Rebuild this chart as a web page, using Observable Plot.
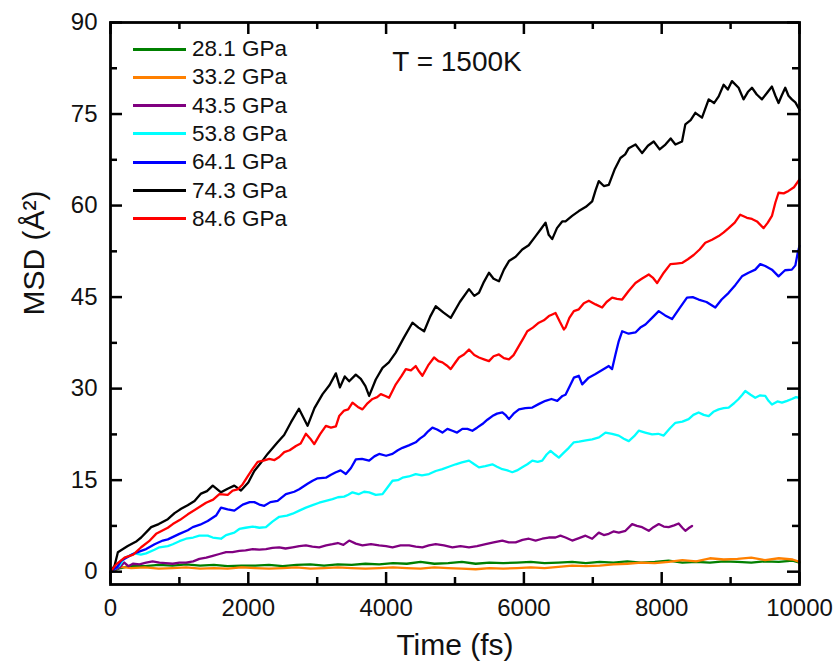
<!DOCTYPE html>
<html>
<head>
<meta charset="utf-8">
<script src="https://cdn.jsdelivr.net/npm/d3@7"></script>
<script src="https://cdn.jsdelivr.net/npm/@observablehq/plot@0.6"></script>
<style>
  html, body { margin: 0; padding: 0; background: #fff; }
  #wrap { position: relative; width: 839px; height: 667px; font-family: "Liberation Sans", Arial, sans-serif; }
  .lg-line { position: absolute; height: 3px; }
  .lg-text { position: absolute; font-size: 22.5px; line-height: 22px; color: #111; white-space: nowrap; }
</style>
</head>
<body>
<div id="wrap"></div>
<script>
// ---- data (time in fs, MSD in Å^2) ----
const seriesLabels = ["28.1 GPa", "33.2 GPa", "43.5 GPa", "53.8 GPa", "64.1 GPa", "74.3 GPa", "84.6 GPa"];
const seriesColors = ["#008000", "#ff8000", "#800080", "#00ffff", "#0000ff", "#000000", "#ff0000"];

const msd281 = [[0,0],[150,0.6],[300,1.0],[500,0.9],[700,1.1],[900,1.0],[1100,1.2],[1300,1.0],[1500,1.1],[1700,0.9],[1900,1.0],[2100,1.0],[2300,1.1],[2500,0.9],[2700,1.1],[2900,1.2],[3100,1.0],[3300,1.2],[3500,1.1],[3700,1.3],[3900,1.2],[4100,1.4],[4300,1.3],[4500,1.6],[4700,1.3],[4900,1.4],[5100,1.6],[5300,1.3],[5500,1.5],[5700,1.4],[5900,1.5],[6100,1.6],[6300,1.4],[6500,1.5],[6700,1.6],[6900,1.4],[7100,1.6],[7300,1.5],[7500,1.7],[7700,1.5],[7900,1.6],[8100,1.8],[8300,1.5],[8500,1.6],[8700,1.5],[8900,1.7],[9100,1.6],[9300,1.5],[9500,1.7],[9700,1.6],[9900,1.8],[10000,1.5]];

const msd332 = [[0,0],[150,0.8],[300,0.6],[500,0.7],[700,0.5],[900,0.6],[1100,0.7],[1300,0.5],[1500,0.6],[1700,0.5],[1900,0.7],[2100,0.6],[2300,0.5],[2500,0.6],[2700,0.7],[2900,0.5],[3100,0.6],[3300,0.7],[3500,0.6],[3700,0.5],[3900,0.6],[4100,0.7],[4300,0.6],[4500,0.5],[4700,0.7],[4900,0.6],[5100,0.5],[5300,0.4],[5500,0.6],[5700,0.5],[5900,0.6],[6100,0.7],[6300,0.6],[6500,0.8],[6700,1.0],[6900,0.9],[7100,1.0],[7300,1.2],[7500,1.3],[7700,1.5],[7900,1.4],[8100,1.6],[8300,1.9],[8500,1.7],[8700,2.2],[8900,2.0],[9100,2.1],[9300,2.3],[9500,1.9],[9700,2.2],[9900,2.0],[10000,1.6]];

const msd435 = [[0,0],[130,0.7],[200,1.5],[260,0.9],[325,1.3],[420,1.2],[517,1.5],[610,1.7],[710,1.5],[800,1.4],[904,1.3],[1000,1.5],[1097,1.5],[1200,1.7],[1290,2.1],[1390,2.3],[1484,2.6],[1580,2.9],[1677,3.2],[1770,3.2],[1870,3.4],[1960,3.5],[2064,3.7],[2160,3.6],[2256,3.7],[2350,3.9],[2449,4.0],[2540,3.8],[2643,4.0],[2740,4.2],[2836,4.3],[2930,4.1],[3029,4.0],[3130,4.3],[3222,4.5],[3300,4.7],[3380,4.4],[3464,5.1],[3560,4.6],[3657,4.3],[3780,4.5],[3899,4.3],[4000,4.2],[4093,4.0],[4210,4.3],[4334,4.3],[4430,4.1],[4527,4.0],[4620,4.3],[4720,4.5],[4840,4.3],[4962,4.0],[5080,4.2],[5203,4.0],[5320,4.2],[5445,4.5],[5560,4.8],[5687,5.1],[5780,4.8],[5880,4.8],[5980,5.2],[6072,5.4],[6170,5.1],[6266,5.4],[6360,5.6],[6459,5.6],[6530,5.9],[6604,5.6],[6701,5.1],[6800,5.5],[6894,5.9],[6991,5.4],[7087,6.4],[7160,6.0],[7232,6.2],[7300,6.6],[7377,6.4],[7474,6.7],[7571,7.8],[7640,7.5],[7716,7.3],[7812,6.7],[7880,7.3],[7957,7.8],[8030,7.4],[8101,7.3],[8180,7.6],[8246,7.9],[8300,7.2],[8343,6.7],[8400,7.2],[8440,7.5]];

const msd538 = [[0,0],[130,1.0],[200,2.2],[348,3.0],[440,2.8],[517,3.0],[638,3.6],[710,4.0],[832,4.2],[904,4.5],[1000,5.0],[1097,5.4],[1200,5.6],[1290,5.9],[1411,5.9],[1484,5.6],[1604,5.4],[1677,6.0],[1797,6.4],[1870,7.0],[1960,7.2],[2064,7.4],[2160,7.2],[2256,7.3],[2350,8.2],[2449,9.0],[2560,9.2],[2643,9.5],[2740,10.0],[2836,10.5],[2933,10.9],[3029,11.3],[3126,11.6],[3222,11.9],[3300,12.2],[3391,12.3],[3450,12.6],[3512,13.0],[3600,12.7],[3680,13.1],[3754,13.0],[3850,12.6],[3948,12.7],[4020,13.8],[4093,14.9],[4170,15.0],[4238,15.4],[4330,15.6],[4430,16.0],[4520,15.8],[4623,16.0],[4720,16.5],[4817,16.8],[4910,17.2],[5010,17.6],[5100,17.9],[5203,18.2],[5280,17.6],[5348,17.1],[5440,17.3],[5542,17.6],[5610,17.2],[5687,16.8],[5760,16.6],[5832,16.3],[5900,16.6],[5976,17.1],[6050,17.6],[6122,18.2],[6200,18.0],[6266,18.2],[6330,19.2],[6387,19.8],[6450,19.2],[6507,18.7],[6580,19.5],[6652,20.3],[6725,21.2],[6800,21.3],[6900,21.5],[6991,21.7],[7090,22.0],[7184,22.8],[7280,22.6],[7377,22.3],[7450,21.8],[7522,21.4],[7600,22.2],[7667,23.1],[7760,22.8],[7861,22.5],[7950,22.6],[8029,22.3],[8120,23.5],[8199,24.4],[8300,24.6],[8391,25.0],[8460,25.7],[8536,26.1],[8610,25.7],[8682,25.5],[8750,26.2],[8827,26.6],[8900,26.8],[8972,26.9],[9050,27.6],[9116,28.3],[9170,29.0],[9213,29.6],[9290,29.0],[9358,28.5],[9430,28.9],[9503,28.8],[9550,28.0],[9600,27.4],[9680,27.9],[9745,27.7],[9820,28.0],[9889,28.3],[9950,28.6],[10000,28.5]];

const msd641 = [[0,0],[100,0.8],[155,1.8],[325,2.9],[445,3.4],[517,3.7],[640,4.5],[759,5.1],[832,5.3],[1000,6.2],[1122,6.8],[1194,7.3],[1300,7.7],[1411,8.3],[1532,9.2],[1604,10.5],[1700,10.2],[1797,10.0],[1919,11.0],[2020,11.4],[2087,11.4],[2160,11.0],[2232,10.8],[2320,11.4],[2425,11.6],[2546,12.7],[2667,13.1],[2739,13.5],[2860,14.4],[2933,14.9],[3006,15.3],[3126,15.4],[3200,15.9],[3271,16.3],[3340,16.6],[3416,16.0],[3490,17.0],[3561,18.4],[3650,18.5],[3754,18.2],[3830,18.9],[3899,19.3],[4000,19.0],[4093,19.3],[4170,19.9],[4238,20.3],[4330,20.7],[4430,21.2],[4490,21.8],[4552,22.3],[4610,23.0],[4672,23.6],[4740,23.3],[4817,22.8],[4890,23.4],[4962,23.1],[5030,22.8],[5107,23.4],[5180,23.4],[5252,23.1],[5320,23.6],[5397,24.2],[5470,24.9],[5542,25.5],[5610,25.9],[5687,26.1],[5740,25.6],[5783,25.0],[5850,25.9],[5928,26.6],[6020,26.8],[6122,26.9],[6220,27.5],[6314,28.0],[6400,28.3],[6484,28.0],[6560,28.8],[6604,29.0],[6670,30.5],[6725,31.8],[6797,32.1],[6846,30.7],[6940,31.8],[7039,32.4],[7130,33.0],[7232,33.7],[7280,33.2],[7329,35.6],[7377,37.8],[7426,39.4],[7520,39.0],[7619,39.2],[7690,40.0],[7764,40.5],[7860,41.6],[7957,42.7],[8050,42.0],[8150,41.4],[8260,43.2],[8367,44.9],[8450,45.0],[8536,44.6],[8650,44.2],[8778,43.3],[8870,44.6],[8972,45.7],[9070,47.0],[9165,48.4],[9260,49.0],[9358,49.5],[9430,50.4],[9503,50.1],[9600,49.5],[9696,48.4],[9790,49.4],[9889,49.5],[9940,50.2],[9970,52.0],[10000,53.4]];

const msd743 = [[0,0],[60,1.0],[107,3.2],[250,4.2],[380,5.0],[445,5.6],[590,7.3],[700,7.8],[832,8.6],[930,9.6],[1025,10.3],[1120,10.9],[1220,11.6],[1314,12.8],[1400,13.2],[1484,14.1],[1604,13.0],[1700,13.6],[1797,14.1],[1894,13.3],[2000,14.6],[2087,16.5],[2180,17.8],[2280,19.3],[2425,21.2],[2520,22.4],[2620,24.5],[2735,26.7],[2860,23.9],[2960,26.8],[3078,29.1],[3180,30.6],[3271,32.5],[3330,30.2],[3400,32.0],[3464,31.2],[3560,32.3],[3633,31.6],[3700,30.4],[3754,28.8],[3850,31.5],[3948,33.4],[4040,34.3],[4140,35.9],[4260,38.4],[4382,40.8],[4470,40.0],[4552,39.4],[4640,41.8],[4720,43.5],[4830,42.5],[4938,41.6],[5070,44.2],[5203,46.3],[5280,45.2],[5348,45.7],[5420,47.5],[5493,49.0],[5560,48.0],[5638,47.6],[5710,49.5],[5783,50.9],[5880,51.6],[5976,52.8],[6070,53.5],[6170,55.0],[6250,56.2],[6314,57.2],[6360,55.2],[6411,54.5],[6480,56.3],[6556,57.4],[6604,57.4],[6700,58.3],[6797,59.1],[6900,59.8],[6991,60.7],[7040,62.5],[7087,64.0],[7160,63.2],[7232,63.4],[7320,66.0],[7401,67.8],[7470,68.4],[7522,69.4],[7620,70.0],[7716,68.6],[7800,69.8],[7884,70.5],[7970,69.2],[8054,70.0],[8130,71.0],[8199,70.0],[8295,70.5],[8343,73.3],[8420,74.0],[8488,75.2],[8585,74.4],[8682,77.4],[8760,76.8],[8827,77.9],[8899,79.8],[8960,79.0],[9020,80.4],[9116,79.3],[9188,77.4],[9250,78.6],[9310,79.3],[9380,78.2],[9455,77.4],[9530,78.5],[9600,79.5],[9650,78.0],[9696,76.8],[9740,78.0],[9793,79.3],[9840,78.0],[9889,77.4],[9940,76.9],[10000,75.7]];

const msd846 = [[0,0],[83,1.2],[204,2.3],[330,2.8],[445,4.0],[560,5.0],[662,6.2],[832,7.2],[904,7.8],[1010,8.5],[1122,9.4],[1250,10.3],[1387,11.3],[1490,11.8],[1580,12.7],[1701,12.6],[1773,13.3],[1846,13.5],[1910,14.2],[1991,15.6],[2060,16.8],[2136,18.0],[2220,18.2],[2304,18.5],[2380,18.3],[2449,18.8],[2522,19.6],[2600,19.9],[2691,20.6],[2760,21.0],[2836,22.6],[2900,21.8],[2957,20.9],[3040,22.5],[3126,23.9],[3200,23.6],[3271,23.8],[3319,25.5],[3391,26.4],[3450,26.6],[3512,27.7],[3590,27.0],[3657,26.6],[3730,27.6],[3803,28.3],[3870,28.6],[3923,29.1],[3990,28.8],[4043,28.5],[4141,30.7],[4220,32.0],[4286,33.2],[4360,33.0],[4430,33.7],[4480,32.8],[4527,32.1],[4610,33.8],[4696,35.1],[4760,34.5],[4817,34.3],[4880,33.8],[4938,33.2],[5000,34.2],[5058,35.1],[5130,35.6],[5203,36.4],[5280,35.5],[5348,35.1],[5420,34.8],[5493,34.5],[5560,35.3],[5638,35.6],[5710,35.0],[5783,34.8],[5850,35.5],[5928,37.0],[6000,38.4],[6049,39.4],[6130,40.0],[6217,40.8],[6290,41.2],[6362,41.9],[6420,42.2],[6459,42.4],[6520,41.0],[6580,39.7],[6604,40.0],[6660,41.6],[6725,42.7],[6797,43.0],[6870,44.0],[6942,44.4],[7040,43.8],[7135,43.3],[7200,44.2],[7280,44.9],[7350,44.7],[7426,44.6],[7520,46.0],[7619,47.3],[7710,48.0],[7812,48.7],[7870,48.2],[7933,47.3],[8030,49.0],[8126,50.4],[8210,50.5],[8295,50.6],[8380,51.2],[8464,51.9],[8550,52.8],[8633,53.9],[8730,54.4],[8827,55.0],[8900,55.6],[8972,56.3],[9060,57.2],[9140,58.5],[9237,58.0],[9310,57.8],[9383,57.4],[9479,56.3],[9540,57.2],[9600,58.3],[9650,60.5],[9696,62.1],[9770,62.0],[9841,62.4],[9920,63.0],[10000,64.3]];

const seriesData = [msd281, msd332, msd435, msd538, msd641, msd743, msd846];

const xMajorTicks = [0, 2000, 4000, 6000, 8000, 10000];
const xMinorTicks = [1000, 3000, 5000, 7000, 9000];
const yMajorTicks = [0, 15, 30, 45, 60, 75, 90];
const yMinorTicks = [7.5, 22.5, 37.5, 52.5, 67.5, 82.5];

const xTitle = "Time (fs)";
const yTitle = "MSD (Å²)";
const annotation = "T = 1500K";

// ---- build table ----
const rows = [];
seriesData.forEach((arr, i) => arr.forEach(([t, v]) => rows.push({t, v, s: seriesLabels[i]})));

const W = 839, H = 667;
const mL = 110, mR = 40, mT = 22, mB = 83;
const fw = W - mL - mR, fh = H - mT - mB;
const xDom = [0, 10000], yDom = [-2.1, 90];
const major = 12, minor = 7;

const tk = (extra) => Object.assign({stroke: "black", strokeWidth: 2.5}, extra);

const chart = Plot.plot({
  width: W, height: H,
  marginLeft: mL, marginRight: mR, marginTop: mT, marginBottom: mB,
  style: {fontFamily: "'Liberation Sans', Arial, sans-serif", background: "#fff"},
  x: {domain: xDom},
  y: {domain: yDom},
  color: {domain: seriesLabels, range: seriesColors},
  marks: [
    Plot.line(rows, {x: "t", y: "v", z: "s", stroke: "s", strokeWidth: 2.3, strokeLinejoin: "round"}),
    // inward ticks on all four sides
    Plot.tickX(xMajorTicks, tk({x: d => d, insetTop: fh - major})),
    Plot.tickX(xMinorTicks, tk({x: d => d, insetTop: fh - minor})),
    Plot.tickX(xMajorTicks, tk({x: d => d, insetBottom: fh - major})),
    Plot.tickX(xMinorTicks, tk({x: d => d, insetBottom: fh - minor})),
    Plot.tickY(yMajorTicks, tk({y: d => d, insetRight: fw - major})),
    Plot.tickY(yMinorTicks, tk({y: d => d, insetRight: fw - minor})),
    Plot.tickY(yMajorTicks, tk({y: d => d, insetLeft: fw - major})),
    Plot.tickY(yMinorTicks, tk({y: d => d, insetLeft: fw - minor})),
    Plot.frame({stroke: "black", strokeWidth: 2.8}),
    Plot.axisX({ticks: xMajorTicks, tickSize: 0, tickPadding: 14, fontSize: 24, label: null, tickFormat: d3.format("d"), fill: "#111"}),
    Plot.axisY({ticks: yMajorTicks, tickSize: 0, tickPadding: 13, fontSize: 24, label: null, tickFormat: d3.format("d"), fill: "#111"}),
    Plot.text([xTitle], {text: d => d, frameAnchor: "bottom", dy: 70, fontSize: 30, fill: "#111"}),
    Plot.text([yTitle], {text: d => d, frameAnchor: "left", dx: -76, dy: 12, rotate: -90, fontSize: 30, fill: "#111"}),
    Plot.text([annotation], {text: d => d, frameAnchor: "top", dx: 2, dy: 29, fontSize: 28, fill: "#111"})
  ]
});

const wrap = document.getElementById("wrap");
wrap.appendChild(chart);

// legend overlay (inside plot area, top-left)
seriesLabels.forEach((lab, i) => {
  const cy = 49 + i * 28.33;
  const ln = document.createElement("div");
  ln.className = "lg-line";
  ln.style.left = "133px"; ln.style.width = "53px";
  ln.style.top = (cy - 1.5) + "px";
  ln.style.background = seriesColors[i];
  wrap.appendChild(ln);
  const tx = document.createElement("div");
  tx.className = "lg-text";
  tx.style.left = "192px";
  tx.style.top = (cy - 11) + "px";
  tx.textContent = lab;
  wrap.appendChild(tx);
});
</script>
</body>
</html>
